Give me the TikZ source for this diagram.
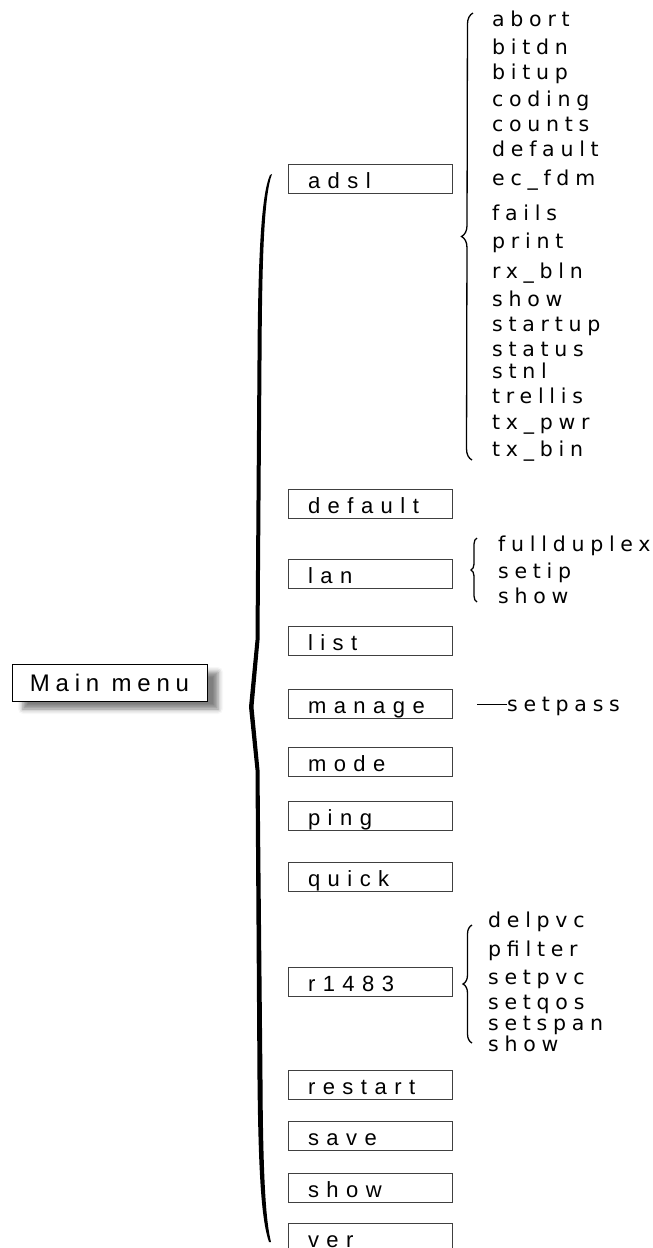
\documentclass[tikz,border=0pt]{standalone}
\usepackage{fontspec}
\setmainfont{Liberation Sans}
\newfontfamily\boxfont[LetterSpace=34]{Liberation Sans}
\newfontfamily\itemfont[LetterSpace=28]{DejaVu Sans}
\newfontfamily\menufont[LetterSpace=24]{Liberation Sans}
\usetikzlibrary{decorations.pathreplacing,shadows.blur}

\tikzset{
	menubox/.style={draw=black!75, line width=1pt, minimum width=164pt, minimum height=29pt, text width=124pt, inner xsep=20pt, inner ysep=0pt, text height=19pt, text depth=0pt, align=left, font=\boxfont\fontsize{22}{22}\selectfont},
	subitem/.style={anchor=base west, inner sep=0pt, font=\itemfont\fontsize{20.5}{20.5}\selectfont},
	subbrace/.style={decorate, decoration={brace, amplitude=#1}, line width=1.3pt},
}

\begin{document}
\begin{tikzpicture}[x=1pt,y=-1pt]
	\useasboundingbox (0,0) rectangle (653,1248);
	\node (main) at (109.5,682.5) [draw, line width=1pt, fill=white, minimum width=195pt, minimum height=37pt, inner sep=0pt, font=\menufont\fontsize{24}{24}\selectfont, blur shadow={shadow xshift=11pt, shadow yshift=-8pt, shadow blur radius=5pt, shadow opacity=50}] {Main menu};
	% big brace
	\fill (272,174) .. controls (264,195) and (262,260) .. (261.5,360) -- (259.5,640) -- (253.5,707) -- (259.5,770) -- (262.5,1080) .. controls (263,1180) and (266,1222) .. (271,1242)
		-- (269,1242) .. controls (262,1222) and (258.5,1180) .. (257.5,1080) -- (255.5,770) -- (249,707) -- (255.5,640) -- (257.5,360) .. controls (258,260) and (261,195) .. (270,175) -- cycle;
	\foreach \name/\y in {adsl/178.5, default/504, lan/574, list/640.5, manage/704, mode/761.5, ping/816, quick/877, r1483/981.5, restart/1084.5, save/1135.5, show/1187.5, ver/1237.5} {
		\node (m-\name) at (370,\y) [menubox] {\name};
	}
	% adsl
	\draw[subbrace=11pt] (472,460) -- (473,13);
	\foreach \t/\y in {abort/26.7, bitdn/54.3, bitup/79, coding/106, counts/131.7, default/156.7, ec\_fdm/185, fails/220.7, print/248.3, rx\_bln/278.3, show/306, startup/331.7, status/356, stnl/378.3, trellis/403.3, tx\_pwr/429.3, tx\_bin/456.7} {
		\node at (492,\y) [subitem] {\t};
	}
	% lan
	\draw[subbrace=6pt] (477,602) -- (477,538);
	\foreach \t/\y in {fullduplex/551.7, setip/578, show/603} {
		\node at (498,\y) [subitem] {\t};
	}
	% manage
	\node (setpass) at (507,711.7) [subitem] {setpass};
	\draw[line width=0.8pt] ([yshift=7pt]setpass.base west) -- ++(-30,0);
	% r1483
	\draw[subbrace=9pt] (472,1043) -- (472,925);
	\foreach \t/\y in {delpvc/927, pfilter/956.7, setpvc/984.3, setqos/1009, setspan/1030, show/1051.7} {
		\node at (488,\y) [subitem] {\t};
	}
\end{tikzpicture}
\end{document}
